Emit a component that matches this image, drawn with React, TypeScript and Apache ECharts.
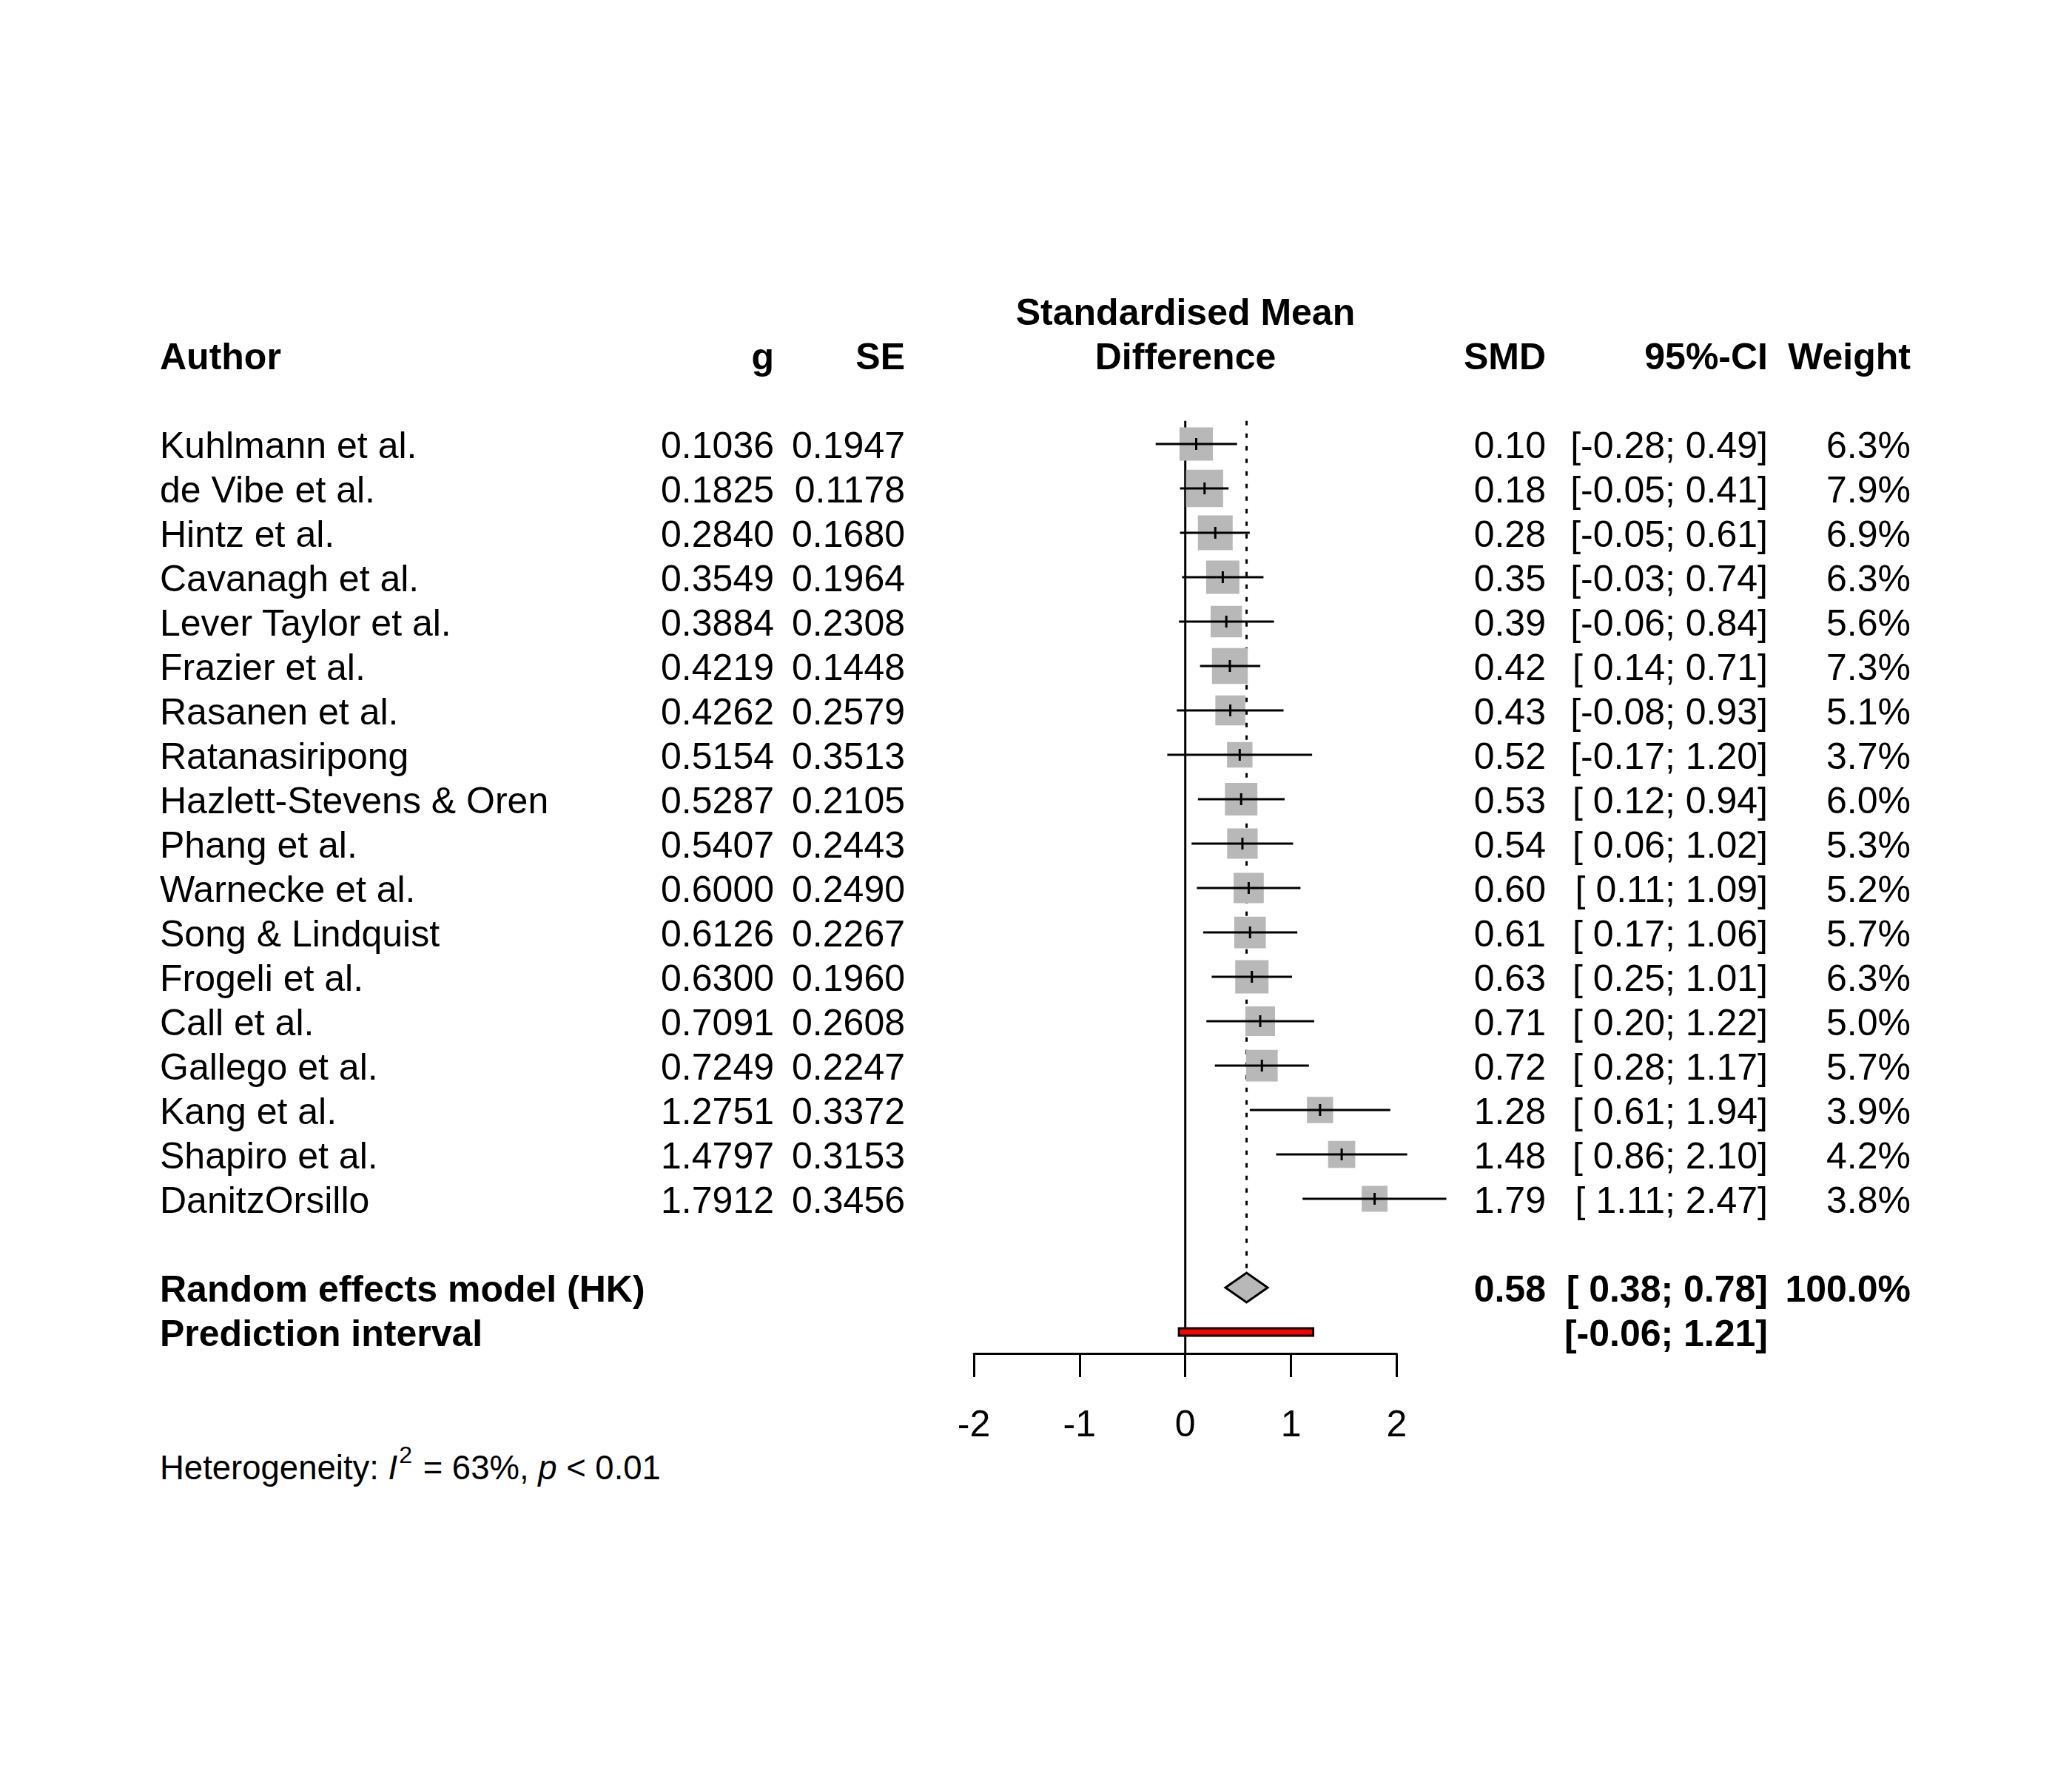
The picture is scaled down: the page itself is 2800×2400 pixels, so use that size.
import React, { useEffect, useRef } from "react";
import * as echarts from "echarts";

// ---------- data ----------
const authors = [
  "Kuhlmann et al.",
  "de Vibe et al.",
  "Hintz et al.",
  "Cavanagh et al.",
  "Lever Taylor et al.",
  "Frazier et al.",
  "Rasanen et al.",
  "Ratanasiripong",
  "Hazlett-Stevens & Oren",
  "Phang et al.",
  "Warnecke et al.",
  "Song & Lindquist",
  "Frogeli et al.",
  "Call et al.",
  "Gallego et al.",
  "Kang et al.",
  "Shapiro et al.",
  "DanitzOrsillo",
];
const gValues = [0.1036, 0.1825, 0.284, 0.3549, 0.3884, 0.4219, 0.4262, 0.5154, 0.5287, 0.5407, 0.6, 0.6126, 0.63, 0.7091, 0.7249, 1.2751, 1.4797, 1.7912];
const seValues = [0.1947, 0.1178, 0.168, 0.1964, 0.2308, 0.1448, 0.2579, 0.3513, 0.2105, 0.2443, 0.249, 0.2267, 0.196, 0.2608, 0.2247, 0.3372, 0.3153, 0.3456];
const smdValues = [0.1, 0.18, 0.28, 0.35, 0.39, 0.42, 0.43, 0.52, 0.53, 0.54, 0.6, 0.61, 0.63, 0.71, 0.72, 1.28, 1.48, 1.79];
const ciLower = [-0.28, -0.05, -0.05, -0.03, -0.06, 0.14, -0.08, -0.17, 0.12, 0.06, 0.11, 0.17, 0.25, 0.2, 0.28, 0.61, 0.86, 1.11];
const ciUpper = [0.49, 0.41, 0.61, 0.74, 0.84, 0.71, 0.93, 1.2, 0.94, 1.02, 1.09, 1.06, 1.01, 1.22, 1.17, 1.94, 2.1, 2.47];
const weights = [6.3, 7.9, 6.9, 6.3, 5.6, 7.3, 5.1, 3.7, 6.0, 5.3, 5.2, 5.7, 6.3, 5.0, 5.7, 3.9, 4.2, 3.8];

const pooledEstimate = 0.58;
const pooledLower = 0.38;
const pooledUpper = 0.78;
const pooledWeight = 100.0;
const predictionLower = -0.06;
const predictionUpper = 1.21;
const xTicks = [-2, -1, 0, 1, 2];
const heterogeneityI2 = "63%";
const heterogeneityP = "0.01";

// ---------- layout / style ----------
const FONT = "'Liberation Sans', Arial, Helvetica, sans-serif";
const FS = 50;
const SQUARE_COLOR = "#B8B8B8";
const SQUARE_SCALE = 17.9;
const ROW_POOLED = 19;
const ROW_PRED = 20;
const COL_AUTHOR = 216;
const COL_G = 1046;
const COL_SE = 1223;
const COL_CENTER = 1602;
const COL_SMD = 2089;
const COL_CI = 2389;
const COL_W = 2582;
const TEXT_DY = 2;

const fmtCI = (l: number, u: number) =>
  `[${l < 0 ? "" : " "}${l.toFixed(2)}; ${u.toFixed(2)}]`;

type TextItem = { text: string; x: number; row: number; align: string; bold?: boolean };

function buildTextItems(): TextItem[] {
  const items: TextItem[] = [];
  items.push({ text: "Standardised Mean", x: COL_CENTER, row: -3, align: "center", bold: true });
  items.push({ text: "Author", x: COL_AUTHOR, row: -2, align: "left", bold: true });
  items.push({ text: "g", x: COL_G, row: -2, align: "right", bold: true });
  items.push({ text: "SE", x: COL_SE, row: -2, align: "right", bold: true });
  items.push({ text: "Difference", x: COL_CENTER, row: -2, align: "center", bold: true });
  items.push({ text: "SMD", x: COL_SMD, row: -2, align: "right", bold: true });
  items.push({ text: "95%-CI", x: COL_CI, row: -2, align: "right", bold: true });
  items.push({ text: "Weight", x: COL_W, row: -2, align: "right", bold: true });
  authors.forEach((a, i) => {
    items.push({ text: a, x: COL_AUTHOR, row: i, align: "left" });
    items.push({ text: gValues[i].toFixed(4), x: COL_G, row: i, align: "right" });
    items.push({ text: seValues[i].toFixed(4), x: COL_SE, row: i, align: "right" });
    items.push({ text: smdValues[i].toFixed(2), x: COL_SMD, row: i, align: "right" });
    items.push({ text: fmtCI(ciLower[i], ciUpper[i]), x: COL_CI, row: i, align: "right" });
    items.push({ text: weights[i].toFixed(1) + "%", x: COL_W, row: i, align: "right" });
  });
  items.push({ text: "Random effects model (HK)", x: COL_AUTHOR, row: ROW_POOLED, align: "left", bold: true });
  items.push({ text: pooledEstimate.toFixed(2), x: COL_SMD, row: ROW_POOLED, align: "right", bold: true });
  items.push({ text: fmtCI(pooledLower, pooledUpper), x: COL_CI, row: ROW_POOLED, align: "right", bold: true });
  items.push({ text: pooledWeight.toFixed(1) + "%", x: COL_W, row: ROW_POOLED, align: "right", bold: true });
  items.push({ text: "Prediction interval", x: COL_AUTHOR, row: ROW_PRED, align: "left", bold: true });
  items.push({ text: fmtCI(predictionLower, predictionUpper), x: COL_CI, row: ROW_PRED, align: "right", bold: true });
  return items;
}

export default function App() {
  const ref = useRef<HTMLDivElement>(null);

  useEffect(() => {
    if (!ref.current) return;
    const chart = echarts.init(ref.current, undefined, { renderer: "svg" });
    const textItems = buildTextItems();

    const option: any = {
      animation: false,
      backgroundColor: "#ffffff",
      grid: { left: 1316, top: 360, width: 571.4, height: 1469, containLabel: false },
      xAxis: {
        type: "value",
        min: xTicks[0],
        max: xTicks[xTicks.length - 1],
        interval: 1,
        axisLine: { show: true, onZero: false, lineStyle: { color: "#000", width: 3 } },
        axisTick: { show: true, length: 32, lineStyle: { color: "#000", width: 3 } },
        axisLabel: { fontSize: FS, color: "#000", fontFamily: FONT, margin: 70, lineHeight: 50 },
        splitLine: { show: false },
      },
      yAxis: { type: "value", inverse: true, min: -4, max: 20.483, show: false },
      series: [
        // reference lines (behind)
        {
          type: "custom",
          clip: false,
          z: 1,
          data: [[0, -0.52, 20.483, 0], [pooledEstimate, -0.52, 18.68, 1]],
          encode: { x: 0, y: 1 },
          renderItem: (params: any, api: any) => {
            const x = api.value(0);
            const p1 = api.coord([x, api.value(1)]);
            const p2 = api.coord([x, api.value(2)]);
            const dashed = api.value(3) === 1;
            return {
              type: "line",
              shape: { x1: p1[0], y1: p1[1], x2: p2[0], y2: p2[1] },
              style: {
                stroke: "#000",
                lineWidth: 3,
                lineDash: dashed ? [6, 11] : null,
              },
            };
          },
        },
        // studies
        {
          type: "custom",
          clip: false,
          z: 2,
          data: authors.map((_, i) => [gValues[i], i, ciLower[i], ciUpper[i], weights[i]]),
          encode: { x: 0, y: 1 },
          renderItem: (params: any, api: any) => {
            const g = api.value(0);
            const row = api.value(1);
            const c = api.coord([g, row]);
            const pl = api.coord([api.value(2), row]);
            const ph = api.coord([api.value(3), row]);
            const side = SQUARE_SCALE * Math.sqrt(api.value(4));
            return {
              type: "group",
              children: [
                {
                  type: "rect",
                  shape: { x: c[0] - side / 2, y: c[1] - side / 2, width: side, height: side },
                  style: { fill: SQUARE_COLOR },
                },
                {
                  type: "line",
                  shape: { x1: pl[0], y1: pl[1], x2: ph[0], y2: ph[1] },
                  style: { stroke: "#000", lineWidth: 3 },
                },
                {
                  type: "line",
                  shape: { x1: c[0], y1: c[1] - 8, x2: c[0], y2: c[1] + 8 },
                  style: { stroke: "#000", lineWidth: 3 },
                },
              ],
            };
          },
        },
        // pooled diamond + prediction interval
        {
          type: "custom",
          clip: false,
          z: 3,
          data: [
            [pooledEstimate, ROW_POOLED, pooledLower, pooledUpper, 0],
            [(predictionLower + predictionUpper) / 2, ROW_PRED, predictionLower, predictionUpper, 1],
          ],
          encode: { x: 0, y: 1 },
          renderItem: (params: any, api: any) => {
            const row = api.value(1);
            const c = api.coord([api.value(0), row]);
            const pl = api.coord([api.value(2), row]);
            const ph = api.coord([api.value(3), row]);
            if (api.value(4) === 0) {
              const h = 20;
              return {
                type: "polygon",
                shape: {
                  points: [
                    [pl[0], c[1]],
                    [c[0], c[1] - h],
                    [ph[0], c[1]],
                    [c[0], c[1] + h],
                  ],
                },
                style: { fill: SQUARE_COLOR, stroke: "#000", lineWidth: 3 },
              };
            }
            return {
              type: "rect",
              shape: { x: pl[0], y: c[1] - 5, width: ph[0] - pl[0], height: 10 },
              style: { fill: "#FF0000", stroke: "#000", lineWidth: 3 },
            };
          },
        },
        // table text
        {
          type: "custom",
          clip: false,
          z: 4,
          data: textItems.map((t) => [0, t.row]),
          encode: { x: 0, y: 1 },
          renderItem: (params: any, api: any) => {
            const t = textItems[params.dataIndex];
            const y = api.coord([0, api.value(1)])[1] + TEXT_DY;
            return {
              type: "text",
              style: {
                text: t.text,
                x: t.x,
                y,
                align: t.align,
                verticalAlign: "middle",
                fontSize: FS,
                fontFamily: FONT,
                fontWeight: t.bold ? "bold" : "normal",
                fill: "#000",
              },
            };
          },
        },
        // heterogeneity
        {
          type: "custom",
          clip: false,
          z: 4,
          data: [[0, 23.03]],
          encode: { x: 0, y: 1 },
          renderItem: (params: any, api: any) => {
            const y = api.coord([0, api.value(1)])[1] + TEXT_DY;
            return {
              type: "text",
              style: {
                text: `{a|Heterogeneity: }{i|I}{s|2}{a| = ${heterogeneityI2}, }{i|p}{a| < ${heterogeneityP}}`,
                x: COL_AUTHOR,
                y,
                align: "left",
                verticalAlign: "middle",
                fontFamily: FONT,
                fill: "#000",
                rich: {
                  a: { fontSize: 45.5, fontFamily: FONT, lineHeight: 68, verticalAlign: "middle" },
                  i: { fontSize: 45.5, fontFamily: FONT, fontStyle: "italic", lineHeight: 68, verticalAlign: "middle" },
                  s: { fontSize: 32, fontFamily: FONT, lineHeight: 32, verticalAlign: "top", padding: [0, 2, 0, 2] },
                },
              },
            };
          },
        },
      ],
    };

    chart.setOption(option);
    return () => chart.dispose();
  }, []);

  return (
    <div
      ref={ref}
      style={{ position: "absolute", left: 0, top: 0, width: 2800, height: 2400, background: "#fff" }}
    />
  );
}
